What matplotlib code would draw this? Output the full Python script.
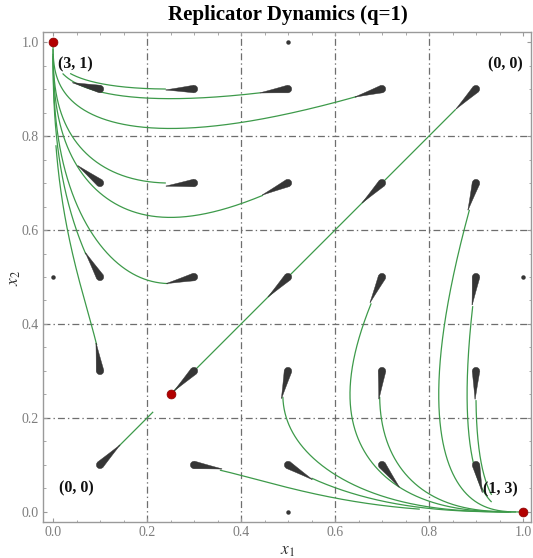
import numpy as np
import matplotlib
matplotlib.use("Agg")
import matplotlib.pyplot as plt
from matplotlib.patches import Polygon

plt.rcParams["lines.scale_dashes"] = False
plt.rcParams["mathtext.fontset"] = "stix"

# ---- data ----
# payoffs (row: player-1 strategy, column: player-2 strategy), from the corner labels
payoff_p1 = [[0, 1], [3, 0]]
payoff_p2 = [[0, 3], [1, 0]]

# vector-field sample points
grid_vals = [0.1, 0.3, 0.5, 0.7, 0.9]
edge_dot_x = [0.0, 0.5, 1.0, 0.5]
edge_dot_y = [0.5, 1.0, 0.5, 0.0]

# rest points shown in red
eq_x = [0.0, 1.0, 0.25]
eq_y = [1.0, 0.0, 0.25]

# stream lines: seed point, coordinate used to stop, stop value
stream_x0 = [0.240, 0.441, 0.646, 0.240, 0.447, 0.070, 0.245, 0.093,
             0.886, 0.677, 0.893, 0.489, 0.695, 0.900, 0.355, 0.550,
             0.857, 0.139]
stream_y0 = [0.900, 0.892, 0.884, 0.700, 0.674, 0.548, 0.486, 0.355,
             0.643, 0.444, 0.438, 0.245, 0.245, 0.238, 0.089, 0.072,
             0.857, 0.139]
stream_axis = ["y", "y", "y", "y", "y", "y", "y", "y",
               "x", "x", "x", "x", "x", "x", "x", "x",
               "x", "x"]
stream_stop = [0.933, 0.933, 0.966, 0.970, 0.998, 0.975, 0.985, 0.780,
               0.966, 0.998, 0.933, 0.985, 0.970, 0.933, 0.780, 0.975,
               0.255, 0.213]

corner_text = ["(3, 1)", "(0, 0)", "(1, 3)", "(0, 0)"]
corner_x = [0.048, 0.962, 0.952, 0.049]
corner_y = [0.953, 0.953, 0.047, 0.051]

xticks = [0.0, 0.2, 0.4, 0.6, 0.8, 1.0]
tick_labels = ["0.0", "0.2", "0.4", "0.6", "0.8", "1.0"]
grid_lines = [0.2, 0.4, 0.6, 0.8]


def field(x1, x2):
    f1a = payoff_p1[0][0] * x2 + payoff_p1[0][1] * (1 - x2)
    f1b = payoff_p1[1][0] * x2 + payoff_p1[1][1] * (1 - x2)
    f2a = payoff_p2[0][0] * x1 + payoff_p2[1][0] * (1 - x1)
    f2b = payoff_p2[0][1] * x1 + payoff_p2[1][1] * (1 - x1)
    return np.array([x1 * (1 - x1) * (f1a - f1b), x2 * (1 - x2) * (f2a - f2b)])


def integrate(x0, y0, axis, stop, dt=0.004, nmax=200000):
    p = np.array([x0, y0], float)
    idx = 0 if axis == "x" else 1
    s0 = np.sign(stop - p[idx])
    pts = [p.copy()]
    for _ in range(nmax):
        k1 = field(*p)
        k2 = field(*(p + 0.5 * dt * k1))
        k3 = field(*(p + 0.5 * dt * k2))
        k4 = field(*(p + dt * k3))
        p = p + dt / 6 * (k1 + 2 * k2 + 2 * k3 + k4)
        pts.append(p.copy())
        if np.sign(stop - p[idx]) != s0:
            break
    return np.array(pts)


fig = plt.figure(figsize=(5.33, 5.58), dpi=100)
ax = fig.add_axes([42.7 / 533, 1 - 522.3 / 558, 488.3 / 533, 490.6 / 558])
ax.set_xlim(-0.022, 1.017)
ax.set_ylim(-0.022, 1.022)

gcol = "#6e6e6e"
dash = (0, (5.0, 2.2, 1.0, 2.2))
for g in grid_lines:
    ax.axvline(g, color=gcol, lw=0.9, ls=dash, zorder=1)
    ax.axhline(g, color=gcol, lw=0.9, ls=dash, zorder=1)

green = "#3d9a4a"
for x0, y0, a, s in zip(stream_x0, stream_y0, stream_axis, stream_stop):
    tr = integrate(x0, y0, a, s)
    ax.plot(tr[:, 0], tr[:, 1], color=green, lw=0.9, zorder=2, solid_capstyle="butt")

# teardrop arrows
L = 0.06
r = 0.0078
dark = "#353535"
for gx in grid_vals:
    for gy in grid_vals:
        v = field(gx, gy)
        d = v / np.hypot(*v)
        n = np.array([-d[1], d[0]])
        p = np.array([gx, gy])
        th = np.linspace(np.pi / 2, 3 * np.pi / 2, 20)
        back = [p + r * (np.cos(t) * d + np.sin(t) * n) for t in th]
        ss = np.linspace(0, L, 30)
        w = r * (1 - ss / L) ** 1.1 + 0.0004
        right = [p + s * d - wi * n for s, wi in zip(ss, w)]
        left = [p + s * d + wi * n for s, wi in zip(ss[::-1], w[::-1])]
        poly = np.array(back + right + left)
        ax.add_patch(Polygon(poly, closed=True, facecolor=dark, edgecolor=dark,
                             lw=0.3, zorder=3))

ax.plot(edge_dot_x, edge_dot_y, "o", color=dark, ms=3.2, mew=0, zorder=3, clip_on=False)
ax.plot(eq_x, eq_y, "o", color="#b20000", ms=6.4, mec="#8a0000", mew=0.5,
        zorder=6, clip_on=False)

for t, x, y in zip(corner_text, corner_x, corner_y):
    ax.text(x, y, t, ha="center", va="center", fontsize=11.5, fontweight="bold",
            family="Liberation Serif", color="#111111", zorder=7)

# frame and ticks
for sp in ax.spines.values():
    sp.set_color("#9a9a9a")
    sp.set_linewidth(1.0)
ax.set_xticks(xticks)
ax.set_yticks(xticks)
ax.set_xticklabels(tick_labels)
ax.set_yticklabels(tick_labels)
ax.set_xticks(np.arange(0, 1.0001, 0.05), minor=True)
ax.set_yticks(np.arange(0, 1.0001, 0.05), minor=True)
ax.tick_params(which="both", direction="in", top=True, right=True, color="#9a9a9a")
ax.tick_params(which="major", length=3.0, width=0.8, labelsize=10, labelcolor="#7d7d7d", pad=3)
ax.tick_params(which="minor", length=1.8, width=0.6)
for lab in ax.get_xticklabels() + ax.get_yticklabels():
    lab.set_family("Liberation Serif")

fig.text(287.5 / 533, 1 - 15 / 558, "Replicator Dynamics (q=1)", ha="center", va="center",
         fontsize=15, fontweight="bold", family="Liberation Serif")
fig.text(288 / 533, 1 - 550 / 558, "$x_1$", ha="center", va="center", fontsize=12.5, color="#333333")
fig.text(14 / 533, 1 - 278 / 558, "$x_2$", ha="center", va="center", fontsize=12.5,
         rotation=90, color="#333333")

fig.savefig("out.png", dpi=100)
